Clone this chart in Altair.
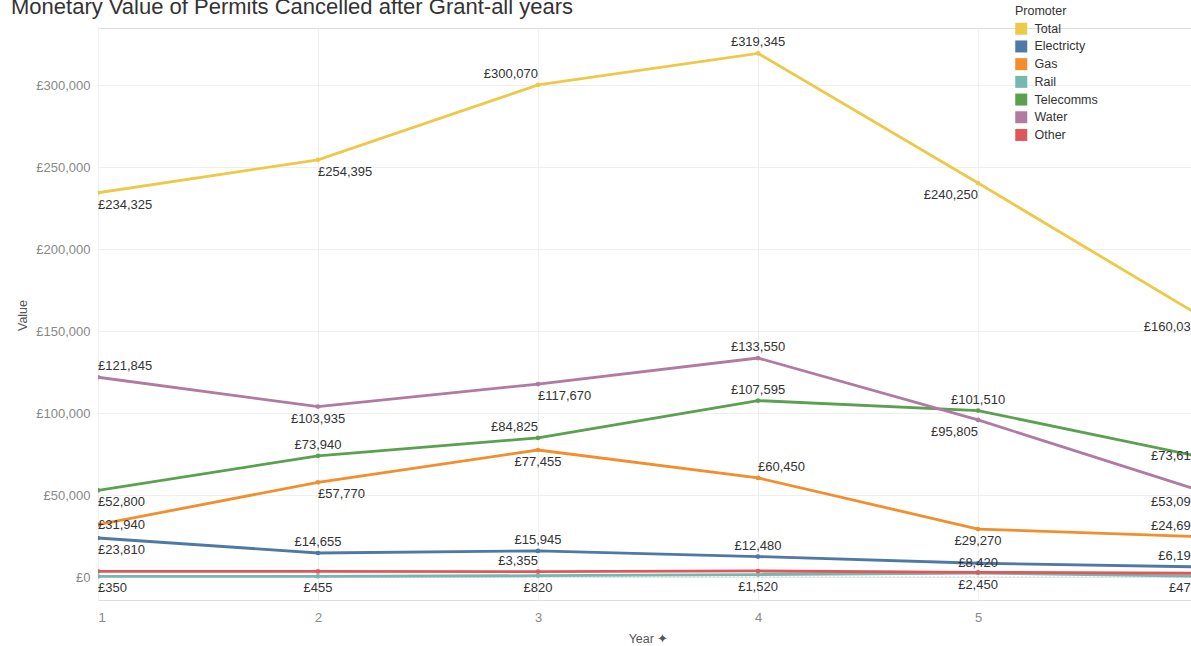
import altair as alt
import pandas as pd

# ---- data -----------------------------------------------------------------
years = [1, 2, 3, 4, 5, 6]
promoters = ["Total", "Electricty", "Gas", "Rail", "Telecomms", "Water", "Other"]
palette = ["#EDC948", "#4E79A7", "#F28E2B", "#76B7B2", "#59A14F", "#B07AA1", "#E15759"]

total = [234325, 254395, 300070, 319345, 240250, 160035]
electricity = [23810, 14655, 15945, 12480, 8420, 6195]
gas = [31940, 57770, 77455, 60450, 29270, 24695]
rail = [350, 455, 820, 1520, 2450, 475]
telecomms = [52800, 73940, 84825, 107595, 101510, 73615]
water = [121845, 103935, 117670, 133550, 95805, 53095]
other = [3500, 3400, 3355, 3700, 2900, 2300]

y_ticks = [0, 50000, 100000, 150000, 200000, 250000, 300000]
x_ticks = [1, 2, 3, 4, 5]

TITLE = "Monetary Value of Permits Cancelled after Grant-all years"

# ---- label placement: alignment (l/c/r) + side (a=above, b=below, m=middle); "" = hidden
label_pos = {
    "Total":      ["lb", "lb", "ra", "ca", "rb", "rb"],
    "Electricty": ["lb", "ca", "ca", "ca", "cm", "ra"],
    "Gas":        ["lm", "lb", "cb", "la", "cb", "ra"],
    "Rail":       ["lb", "cb", "cb", "cb", "cb", "rb"],
    "Telecomms":  ["lb", "ca", "ra", "ca", "ca", "rm"],
    "Water":      ["la", "cb", "lb", "ca", "rb", "rb"],
    "Other":      ["",   "",   "ra", "",   "",   ""],
}

series = {
    "Total": total, "Electricty": electricity, "Gas": gas, "Rail": rail,
    "Telecomms": telecomms, "Water": water, "Other": other,
}

rows = []
for name in promoters:
    for yr, val, pos in zip(years, series[name], label_pos[name]):
        rows.append({"Year": yr, "Value": val, "Promoter": name,
                     "pos": pos, "label": "£{:,}".format(val)})
df = pd.DataFrame(rows)

FONT = "Liberation Sans"
W, H = 1093, 572

x_enc = alt.X("Year:Q",
              scale=alt.Scale(domain=[1, 5.968], nice=False, zero=False),
              axis=alt.Axis(values=x_ticks, format="d", grid=True, gridColor="#efefef",
                            domain=False, ticks=False, labelColor="#888", labelFontSize=13,
                            labelFont=FONT, labelPadding=11, title="Year ✦",
                            titleFont=FONT, titleFontSize=12.5, titleFontWeight="normal",
                            titleColor="#555", titleX=550, titleY=38, titleBaseline="middle"))
y_enc = alt.Y("Value:Q",
              scale=alt.Scale(domain=[-14000, 334800], nice=False, zero=False),
              axis=alt.Axis(values=y_ticks, labelExpr="'£' + format(datum.value, ',')",
                            grid=True, gridColor="#efefef", domain=False, ticks=False,
                            labelColor="#888", labelFontSize=13, labelFont=FONT, labelPadding=8,
                            title="Value", titleFont=FONT, titleFontSize=12.5,
                            titleFontWeight="normal", titleColor="#555",
                            titleX=-76, titleY=287, titleBaseline="middle"))
color_enc = alt.Color("Promoter:N",
                      scale=alt.Scale(domain=promoters, range=palette),
                      legend=alt.Legend(title="Promoter", orient="none", legendX=917, legendY=-23,
                                        symbolType="square", symbolSize=144, symbolStrokeWidth=0,
                                        symbolOpacity=1,
                                        labelFont=FONT, labelFontSize=12.5, labelColor="#333",
                                        titleFont=FONT, titleFontSize=12.5, titleFontWeight="normal",
                                        titleColor="#333", rowPadding=4.7, titlePadding=5,
                                        labelOffset=7))

base = alt.Chart(df)

zero_rule = alt.Chart(pd.DataFrame({"v": [0]})).mark_rule(
    color="#cfcfcf", strokeDash=[2, 2], strokeWidth=1).encode(y=alt.Y("v:Q"))

lines = base.mark_line(strokeWidth=2.8, clip=True).encode(
    x=x_enc, y=y_enc, color=color_enc, order="Year:Q")
points = base.mark_circle(size=22, opacity=1, clip=True).encode(
    x="Year:Q", y="Value:Q", color=alt.Color("Promoter:N", scale=alt.Scale(domain=promoters, range=palette)))

align_map = {"l": "left", "c": "center", "r": "right"}
side_dy = {"a": -11, "b": 12, "m": 0}
label_layers = []
for a_code, align in align_map.items():
    for s_code, dy in side_dy.items():
        code = a_code + s_code
        label_layers.append(
            base.transform_filter(alt.datum.pos == code)
            .mark_text(align=align, baseline="middle", dy=dy, font=FONT, fontSize=13,
                       color="#333", clip=True)
            .encode(x="Year:Q", y="Value:Q", text="label:N")
        )

title_mark = alt.Chart(pd.DataFrame({"t": [TITLE]})).mark_text(
    align="left", baseline="alphabetic", font=FONT, fontSize=22, color="#333"
).encode(text="t:N", x=alt.value(-87), y=alt.value(-14))

chart = alt.layer(zero_rule, lines, points, *label_layers, title_mark).properties(
    width=W, height=H,
    autosize=alt.AutoSizeParams(type="none"),
    padding={"left": 98, "top": 28, "right": 0, "bottom": 46},
).configure_view(stroke=None).configure(background="white")

chart.save("out.html", embed_options={"renderer": "svg", "actions": False})
